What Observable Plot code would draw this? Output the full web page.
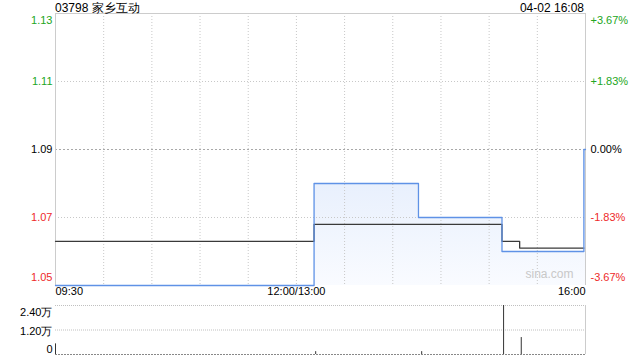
<!DOCTYPE html>
<html>
<head>
<meta charset="utf-8">
<script src="https://cdn.jsdelivr.net/npm/d3@7"></script>
<script src="https://cdn.jsdelivr.net/npm/@observablehq/plot@0.6"></script>
<style>
  body { margin: 0; background: #fff; font-family: "Liberation Sans", Arial, sans-serif; }
  #wrap { position: relative; width: 640px; height: 360px; overflow: hidden; }
  #title { position: absolute; left: 55px; top: 1px; font-size: 12px; color: #000; line-height: 15px; }
  #date { position: absolute; right: 56px; top: 1px; font-size: 12px; color: #000; line-height: 15px; }
  #main { position: absolute; left: 0; top: 0; }
  #vol { position: absolute; left: 0; top: 300px; }
</style>
</head>
<body>
<div id="wrap">
  <div id="main"></div>
  <div id="vol"></div>
  <div id="title">03798 家乡互动</div>
  <div id="date">04-02 16:08</div>
</div>
<script>
// minutes of trading since 09:30 (12:00 and 13:00 share t=150, close at t=330)
const priceTimes = [0, 161, 226, 278, 329, 330];
const priceValues = [1.05, 1.08, 1.07, 1.06, 1.09, 1.09];
const avgTimes = [0, 161, 278, 289, 329];
const avgValues = [1.063, 1.068, 1.063, 1.061, 1.061];
const volTimes = [0, 162, 228, 279, 290];
const volValues = [5200, 1400, 1400, 24000, 8300];

const prevClose = 1.09;
const yTicks = [1.13, 1.11, 1.09, 1.07, 1.05];
const yTickLabels = ["1.13", "1.11", "1.09", "1.07", "1.05"];
const pctLabels = ["+3.67%", "+1.83%", "0.00%", "-1.83%", "-3.67%"];
const gridY = [1.11, 1.07];
const gridX = [30, 60, 90, 120, 150, 180, 210, 240, 270, 300];
const xLabels = ["09:30", "12:00/13:00", "16:00"];
const xLabelTimes = [0, 150, 330];
const volTicks = [24000, 12000, 0];
const volTickLabels = ["2.40万", "1.20万", "0"];

const GREEN = "#22a622", RED = "#ee2a2a";
const tickColor = v => v > prevClose ? GREEN : v < prevClose ? RED : "#000";

const price = priceTimes.map((t, i) => ({t, p: priceValues[i]}));
const avg = avgTimes.map((t, i) => ({t, p: avgValues[i]}));
const vol = volTimes.map((t, i) => ({t, v: volValues[i]}));
const ticks = yTicks.map((v, i) => ({v, label: yTickLabels[i], pct: pctLabels[i], i}));
const xl = xLabelTimes.map((t, i) => ({t, label: xLabels[i], i}));
const vt = volTicks.map((v, i) => ({v, label: volTickLabels[i], i}));

const font = {fontFamily: "'Liberation Sans', Arial, sans-serif", fontSize: "11px", background: "transparent", overflow: "visible"};

const tickTop = ticks.filter(d => d.i === 0);
const tickMid = ticks.filter(d => d.i > 0 && d.i < 4);
const tickBot = ticks.filter(d => d.i === 4);

function yLabels(data, dy) {
  return [
    Plot.text(data, {frameAnchor: "left", y: "v", text: "label", textAnchor: "end", dx: -3, dy, fill: d => tickColor(d.v)}),
    Plot.text(data, {frameAnchor: "right", y: "v", text: "pct", textAnchor: "start", dx: 5, dy, fill: d => tickColor(d.v)})
  ];
}

const main = Plot.plot({
  width: 640, height: 300,
  marginTop: 13, marginBottom: 15, marginLeft: 55, marginRight: 55,
  style: font,
  color: {type: "identity"},
  x: {domain: [0, 330], axis: null},
  y: {domain: [1.05, 1.13], axis: null},
  marks: [
    Plot.areaY(price, {x: "t", y1: 1.05, y2: "p", curve: "step-after", fill: "url(#pgrad)"}),
    Plot.ruleX(gridX, {stroke: "#c8c8c8", strokeDasharray: "1,2"}),
    Plot.ruleY(gridY, {stroke: "#c8c8c8", strokeDasharray: "1,2"}),
    Plot.ruleY([prevClose], {stroke: "#a8a8a8", strokeDasharray: "2,2"}),
    Plot.ruleX([0, 330], {stroke: "#cccccc"}),
    Plot.ruleY([1.13], {stroke: "#cccccc"}),
    Plot.text(["sina.com"], {frameAnchor: "bottom-right", text: d => d, dx: -12, dy: -8, fill: "#c8c8c8", fontSize: 12, textAnchor: "end"}),
    Plot.line(avg, {x: "t", y: "p", curve: "step-after", stroke: "#3a3a3a", strokeWidth: 1.3}),
    Plot.line(price, {x: "t", y: "p", curve: "step-after", stroke: "#5f92e6", strokeWidth: 1.3}),
    ...yLabels(tickTop, 7),
    ...yLabels(tickMid, 0),
    ...yLabels(tickBot, -8),
    Plot.text(xl.filter(d => d.i === 0), {x: "t", frameAnchor: "bottom", text: "label", dy: 9, fill: "#000", textAnchor: "start"}),
    Plot.text(xl.filter(d => d.i === 1), {x: "t", frameAnchor: "bottom", text: "label", dy: 9, fill: "#000", textAnchor: "middle"}),
    Plot.text(xl.filter(d => d.i === 2), {x: "t", frameAnchor: "bottom", text: "label", dy: 9, fill: "#000", textAnchor: "end"})
  ]
});
d3.select(main).insert("defs", ":first-child").html(
  '<linearGradient id="pgrad" x1="0" y1="0" x2="0" y2="1">' +
  '<stop offset="0" stop-color="#e3ecfc"/><stop offset="1" stop-color="#f9fbff"/></linearGradient>');
document.getElementById("main").appendChild(main);

const volChart = Plot.plot({
  width: 640, height: 60,
  marginTop: 5, marginBottom: 6, marginLeft: 55, marginRight: 55,
  style: font,
  x: {domain: [0, 330], axis: null},
  y: {domain: [0, 24000], axis: null},
  marks: [
    Plot.ruleY([24000, 12000], {stroke: "#c0c0c0", strokeDasharray: "1,1"}),
    Plot.ruleY([0], {stroke: "#888", strokeDasharray: "2,1"}),
    Plot.ruleX([330], {stroke: "#cccccc"}),
    Plot.ruleX(vol, {x: "t", y1: 0, y2: "v", stroke: "#333", strokeWidth: 1}),
    Plot.text(vt.filter(d => d.i === 0), {frameAnchor: "left", y: "v", text: "label", textAnchor: "end", dx: -3, dy: 7, fill: "#000"}),
    Plot.text(vt.filter(d => d.i === 1), {frameAnchor: "left", y: "v", text: "label", textAnchor: "end", dx: -3, dy: 1, fill: "#000"}),
    Plot.text(vt.filter(d => d.i === 2), {frameAnchor: "left", y: "v", text: "label", textAnchor: "end", dx: -3, dy: -5, fill: "#000"})
  ]
});
document.getElementById("vol").appendChild(volChart);
</script>
</body>
</html>
